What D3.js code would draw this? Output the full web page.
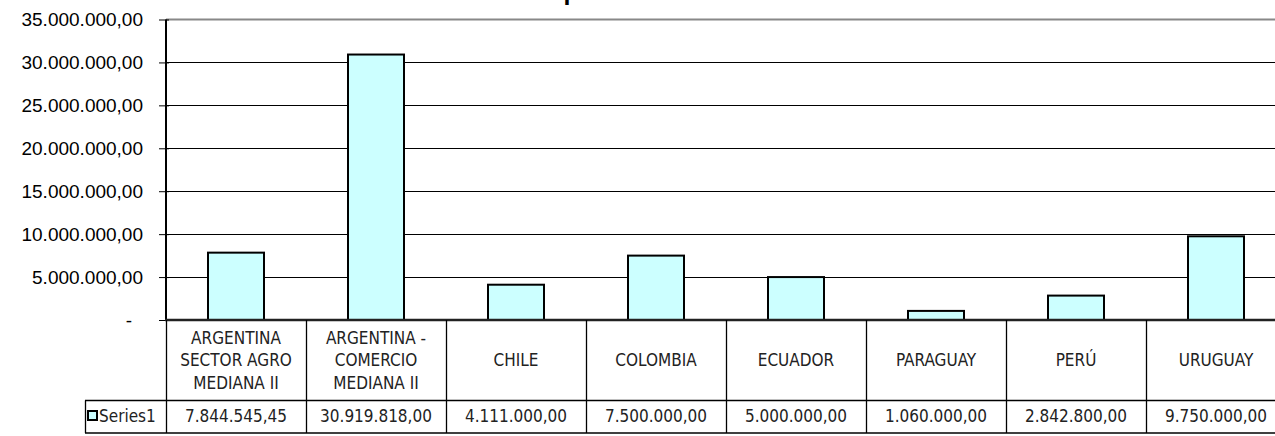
<!DOCTYPE html>
<html><head><meta charset="utf-8">
<script src="https://cdn.jsdelivr.net/npm/d3@7"></script>
<style>
html,body{margin:0;padding:0;background:#fff;overflow:hidden;}
svg{display:block;}
</style></head>
<body>
<svg id="c" width="1275" height="436"></svg>
<script>
const categories = [
  ["ARGENTINA","SECTOR AGRO","MEDIANA II"],
  ["ARGENTINA -","COMERCIO","MEDIANA II"],
  ["CHILE"],["COLOMBIA"],["ECUADOR"],["PARAGUAY"],["PERÚ"],["URUGUAY"]
];
const values = [7844545.45, 30919818.00, 4111000, 7500000, 5000000, 1060000, 2842800, 9750000];
const valueLabels = ["7.844.545,45","30.919.818,00","4.111.000,00","7.500.000,00","5.000.000,00","1.060.000,00","2.842.800,00","9.750.000,00"];
const yTicks = [0,5e6,10e6,15e6,20e6,25e6,30e6,35e6];
const yTickLabels = ["-","5.000.000,00","10.000.000,00","15.000.000,00","20.000.000,00","25.000.000,00","30.000.000,00","35.000.000,00"];
const seriesName = "Series1";
const title = "Comparativo de montos";

(function(){
const svg = d3.select("#c");
const left = 166, right = 1286, plotTop = 19.5, zeroY = 320;
const narrow = "'Liberation Sans Narrow','Arial Narrow','DejaVu Sans Condensed',sans-serif";
const arial = "'Liberation Sans',Arial,sans-serif";

const keys = categories.map((c,i)=>"c"+i);
const x = d3.scaleBand().domain(keys).range([left,right]).paddingInner(0.6).paddingOuter(0.3);
const step = x.step();
const y = d3.scaleLinear().domain([0,35e6]).range([zeroY, plotTop]);

// title, cropped by the top edge as in the reference
svg.append("text").attr("x",508).attr("y",-0.3).attr("text-anchor","start")
  .attr("font-family",arial).attr("font-size",25).attr("font-weight","bold").text(title);

svg.append("g").selectAll("line").data(yTicks.filter(t=>t>0 && t<35e6)).join("line")
  .attr("x1",left).attr("x2",right).attr("y1",d=>Math.round(y(d))+0.5).attr("y2",d=>Math.round(y(d))+0.5)
  .attr("stroke","#000").attr("stroke-width",1);
svg.append("line").attr("x1",left).attr("x2",right).attr("y1",y(35e6)).attr("y2",y(35e6))
  .attr("stroke","#888").attr("stroke-width",2);

svg.append("g").selectAll("rect").data(values).join("rect")
  .attr("x",(d,i)=>x(keys[i])).attr("width",x.bandwidth())
  .attr("y",d=>y(d)).attr("height",d=>y(0)-y(d))
  .attr("fill","#CCFFFF").attr("stroke","#000").attr("stroke-width",2);

const yAxis = d3.axisLeft(y).tickValues(yTicks).tickFormat((d,i)=>yTickLabels[i]).tickSize(7).tickPadding(16);
const ga = svg.append("g").attr("transform",`translate(${left},0)`).call(yAxis);
ga.select(".domain").attr("stroke","#000").attr("stroke-width",2).attr("d",`M0,${plotTop}V${zeroY}`);
ga.selectAll(".tick line").attr("stroke","#000").attr("stroke-width",1).attr("x1",3);
ga.selectAll(".tick text").attr("font-family",arial).attr("font-size",19).attr("fill","#000");
ga.selectAll(".tick").filter(d=>d===0).select("text").attr("dx",-11);

svg.append("line").attr("x1",left-1).attr("x2",right).attr("y1",zeroY).attr("y2",zeroY)
  .attr("stroke","#222").attr("stroke-width",2.5);

const rowY = 400.5, botY = 433;
const tg = svg.append("g");
const bounds = keys.map(k=>x(k)-step*0.3).concat([right]);
tg.selectAll("line.v").data(bounds).join("line").attr("class","v")
  .attr("x1",d=>Math.round(d)+0.5).attr("x2",d=>Math.round(d)+0.5).attr("y1",zeroY).attr("y2",botY)
  .attr("stroke","#000").attr("stroke-width",1.3);
tg.append("line").attr("x1",85).attr("x2",right).attr("y1",rowY).attr("y2",rowY).attr("stroke","#000").attr("stroke-width",1.3);
tg.append("line").attr("x1",85).attr("x2",right).attr("y1",botY).attr("y2",botY).attr("stroke","#000").attr("stroke-width",1.3);
tg.append("line").attr("x1",85.5).attr("x2",85.5).attr("y1",rowY).attr("y2",botY).attr("stroke","#000").attr("stroke-width",1.3);

const cl = tg.selectAll("text.cat").data(categories).join("text").attr("class","cat")
  .attr("text-anchor","middle").attr("font-family",narrow).attr("font-size",17).attr("fill","#222");
cl.each(function(lines,i){
  const cx = x(keys[i]) + x.bandwidth()/2;
  const n = lines.length, lh = 22.5;
  const c0 = 360.5 - (n-1)*lh/2;
  d3.select(this).selectAll("tspan").data(lines).join("tspan")
    .attr("x",cx).attr("y",(d,j)=>c0+j*lh).attr("dy","0.35em").text(d=>d);
});
tg.selectAll("text.val").data(valueLabels).join("text").attr("class","val")
  .attr("x",(d,i)=>x(keys[i])+x.bandwidth()/2).attr("y",416.5).attr("dy","0.35em")
  .attr("text-anchor","middle").attr("font-family",narrow).attr("font-size",17).attr("fill","#222")
  .text(d=>d);
tg.append("rect").attr("x",88).attr("y",411).attr("width",9).attr("height",9)
  .attr("fill","#CCFFFF").attr("stroke","#000").attr("stroke-width",2);
tg.append("text").attr("x",99).attr("y",416.5).attr("dy","0.35em")
  .attr("font-family",narrow).attr("font-size",17).attr("fill","#222").text(seriesName);
})();
</script>
</body></html>
